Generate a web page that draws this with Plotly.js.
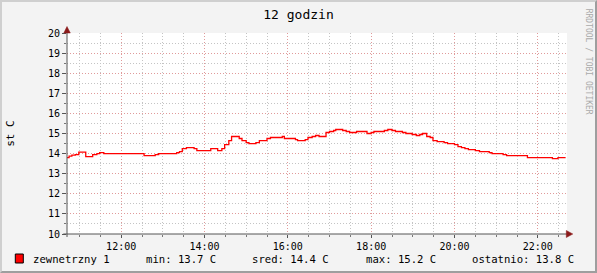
<!DOCTYPE html>
<html><head><meta charset="utf-8">
<script src="https://cdn.plot.ly/plotly-3.0.1.min.js"></script>
<style>
html,body{margin:0;padding:0;background:#f3f3f3;}
#wrap{position:relative;width:597px;height:273px;}
#chart{width:597px;height:273px;}
#frame{position:absolute;left:0;top:0;width:597px;height:273px;box-sizing:border-box;
 border-top:2px solid #cfcfcf;border-left:2px solid #cfcfcf;border-right:2px solid #9e9e9e;border-bottom:2px solid #9e9e9e;pointer-events:none;}
</style></head>
<body><div id="wrap"><div id="chart"></div><div id="frame"></div></div>
<script>
const day = '2024-01-01 ';
const times = ['10:42','10:45','10:49','10:54','10:59','11:09','11:19','11:25','11:29','11:35','12:33','12:49','12:54','13:20','13:24','13:28','13:34','13:45','13:49','14:09','14:19','14:25','14:29','14:35','14:39','14:50','14:54','15:00','15:04','15:14','15:19','15:30','15:35','15:52','15:55','16:11','16:14','16:25','16:29','16:35','16:40','16:45','16:55','17:00','17:06','17:09','17:19','17:24','17:29','17:39','17:54','18:00','18:04','18:19','18:24','18:30','18:35','18:45','18:50','18:59','19:05','19:10','19:14','19:20','19:25','19:29','19:35','19:45','19:50','20:00','20:05','20:10','20:15','20:20','20:30','20:36','20:50','20:54','21:10','21:15','21:45','22:21','22:29','22:40'];
const temps = [13.8,13.87,13.92,13.95,14.07,13.85,13.95,14.0,14.05,14.0,13.9,13.95,14.0,14.05,14.1,14.25,14.3,14.25,14.15,14.25,14.15,14.25,14.45,14.65,14.85,14.75,14.65,14.55,14.5,14.55,14.65,14.75,14.8,14.85,14.75,14.7,14.65,14.7,14.8,14.85,14.9,14.85,15.05,15.1,15.15,15.2,15.15,15.1,15.05,15.1,15.0,15.05,15.1,15.15,15.2,15.15,15.1,15.05,15.0,14.95,14.9,14.95,15.0,14.85,14.8,14.65,14.6,14.55,14.5,14.45,14.35,14.3,14.25,14.2,14.15,14.1,14.05,14.0,13.95,13.9,13.8,13.75,13.8,13.8];
const seriesName = 'zewnetrzny 1';
const statLabels = ['min: 13.7 C','sred: 14.4 C','max: 15.2 C','ostatnio: 13.8 C'];
const xRange = ['10:42','22:42'];
const yRange = [10,20];
const chartTitle = '12 godzin';
const yTitle = 'st C';

const W = 597, H = 273, L = 66.7, R = 566.7, T = 33, B = 234;
const pw = R - L, ph = B - T;
const px = v => (v - L) / pw;
const py = v => (B - v) / ph;
const mono = 'DejaVu Sans Mono, monospace';

const trace = {
  x: times.map(t => day + t), y: temps, type: 'scatter', mode: 'lines',
  line: {color: '#ff0000', width: 1.3, shape: 'hv'}, hoverinfo: 'skip', showlegend: false
};

const legendX = [31, 143.5, 250, 363.5, 470];
const legendTexts = [seriesName].concat(statLabels);
const annotations = legendTexts.map((t, i) => ({
  xref: 'paper', yref: 'paper', x: px(legendX[i]), y: py(258.5), xanchor: 'left', yanchor: 'middle',
  text: t, showarrow: false, font: {family: mono, size: 10.6, color: '#000'}
}));
annotations.push({xref:'paper', yref:'paper', x: px(589), y: py(62), xanchor: 'center', yanchor: 'middle',
  text: 'RRDTOOL / TOBI OETIKER', textangle: 90, showarrow: false, font: {family: mono, size: 8, color: '#aaaaaa'}});

const shapes = [
  {type:'rect', xref:'paper', yref:'paper', x0: px(15), x1: px(23), y0: py(254), y1: py(263),
   fillcolor:'#ff0000', line:{color:'#000', width:1}},
  {type:'line', xref:'paper', yref:'paper', x0: 0, x1: 0, y0: py(237), y1: py(30), line:{color:'#555', width:1}},
  {type:'line', xref:'paper', yref:'paper', x0: px(63), x1: px(569), y0: 0, y1: 0, line:{color:'#555', width:1}},
  {type:'path', xref:'paper', yref:'paper', path: `M ${px(63.5)} ${py(33)} L ${px(70)} ${py(33)} L ${px(66.7)} ${py(26.5)} Z`,
   fillcolor:'#8b1a1a', line:{color:'#8b1a1a', width:0.5}},
  {type:'path', xref:'paper', yref:'paper', path: `M ${px(566)} ${py(230.5)} L ${px(566)} ${py(237.5)} L ${px(572.5)} ${py(234)} Z`,
   fillcolor:'#8b1a1a', line:{color:'#8b1a1a', width:0.5}}
];

const layout = {
  width: W, height: H,
  margin: {l: L, r: W - R, t: T, b: H - B, pad: 0},
  paper_bgcolor: '#f3f3f3', plot_bgcolor: '#ffffff',
  title: {text: chartTitle, x: 0.5, xref: 'container', y: 1 - 14/H, yref: 'container', yanchor: 'middle',
          font: {family: mono, size: 13, color: '#000'}},
  xaxis: {type: 'date', range: xRange.map(t => day + t), tickformat: '%H:%M',
    dtick: 7200000, tick0: day + '00:00', showgrid: true, gridcolor: '#e09a9a', griddash: '1px,2px', gridwidth: 1,
    minor: {dtick: 1800000, showgrid: true, gridcolor: '#c4c4c4', griddash: '1px,2px', ticks: 'outside', ticklen: 2, tickcolor: '#777'},
    ticks: 'outside', ticklen: 3, tickcolor: '#555', showline: false, zeroline: false,
    tickfont: {family: mono, size: 10, color: '#000'}, fixedrange: true},
  yaxis: {range: yRange, dtick: 1, tick0: 0, showgrid: true, gridcolor: '#e09a9a', griddash: '1px,2px', gridwidth: 1,
    minor: {dtick: 0.5, showgrid: true, gridcolor: '#c4c4c4', griddash: '1px,2px', ticks: 'outside', ticklen: 2, tickcolor: '#777'},
    ticks: 'outside', ticklen: 4, tickcolor: '#555', showline: false, zeroline: false,
    tickfont: {family: mono, size: 10, color: '#000'},
    title: {text: yTitle, font: {family: mono, size: 11, color: '#000'}, standoff: 31}, fixedrange: true},
  shapes: shapes, annotations: annotations, showlegend: false
};
Plotly.newPlot('chart', [trace], layout, {displayModeBar: false, staticPlot: true});
</script></body></html>
